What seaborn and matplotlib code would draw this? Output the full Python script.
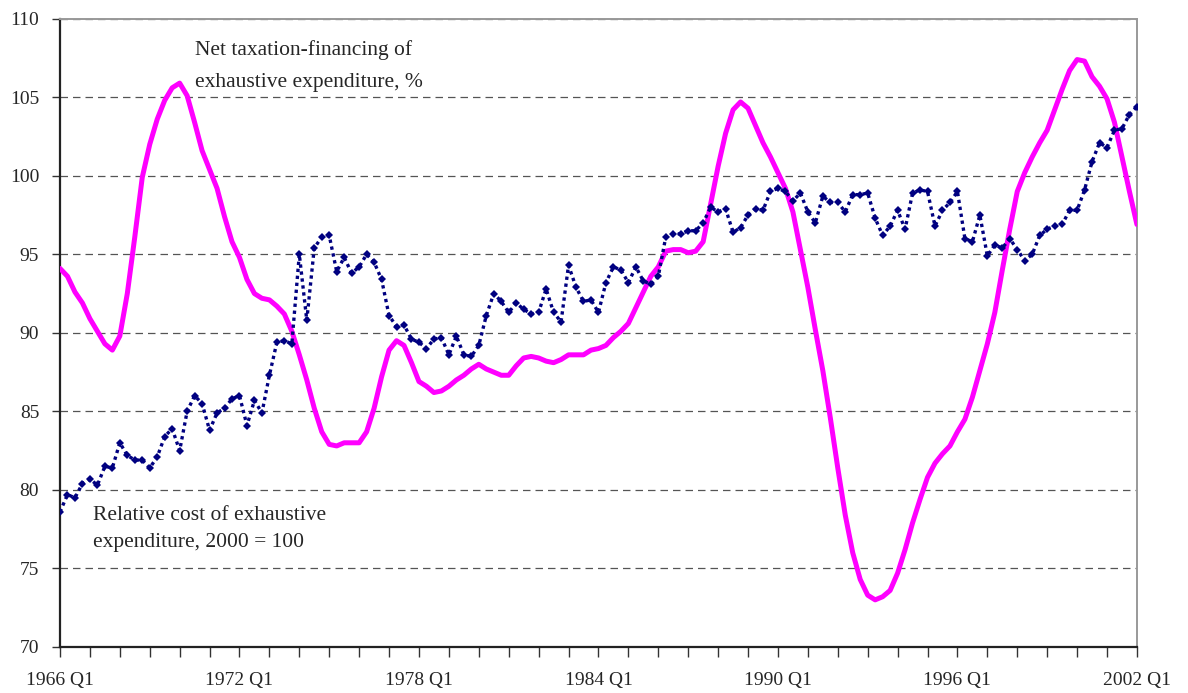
import numpy as np
import pandas as pd
import matplotlib
matplotlib.use("Agg")
import matplotlib.pyplot as plt
import seaborn as sns
from matplotlib.ticker import MultipleLocator

# --- data: quarterly, 1966 Q1 .. 2002 Q1 ---
start_year = 1966
n_quarters = 145
quarter_labels = [f"{start_year + i // 4} Q{i % 4 + 1}" for i in range(n_quarters)]

# Net taxation-financing of exhaustive expenditure, %
tax_financing = [
    94.1, 93.6, 92.6, 91.9, 90.9, 90.1, 89.3, 88.9, 89.8, 92.5,
    96.1, 99.9, 102.0, 103.6, 104.8, 105.6, 105.9, 105.1, 103.4, 101.6,
    100.4, 99.2, 97.4, 95.8, 94.8, 93.4, 92.5, 92.2, 92.1, 91.7,
    91.2, 90.1, 88.6, 87.0, 85.2, 83.7, 82.9, 82.8, 83.0, 83.0,
    83.0, 83.7, 85.2, 87.2, 88.9, 89.5, 89.2, 88.1, 86.9, 86.6,
    86.2, 86.3, 86.6, 87.0, 87.3, 87.7, 88.0, 87.7, 87.5, 87.3,
    87.3, 87.9, 88.4, 88.5, 88.4, 88.2, 88.1, 88.3, 88.6, 88.6,
    88.6, 88.9, 89.0, 89.2, 89.7, 90.1, 90.6, 91.6, 92.6, 93.6,
    94.2, 95.2, 95.3, 95.3, 95.1, 95.2, 95.8, 98.2, 100.6, 102.7,
    104.2, 104.7, 104.3, 103.2, 102.1, 101.2, 100.2, 99.2, 97.7, 95.3,
    92.9, 90.2, 87.6, 84.6, 81.4, 78.4, 76.0, 74.3, 73.3, 73.0,
    73.2, 73.6, 74.7, 76.2, 77.9, 79.4, 80.8, 81.7, 82.3, 82.8,
    83.7, 84.5, 85.9, 87.6, 89.3, 91.3, 94.0, 96.6, 99.0, 100.2,
    101.2, 102.1, 102.9, 104.2, 105.5, 106.7, 107.4, 107.3, 106.3, 105.7,
    104.9, 103.4, 101.2, 99.0, 96.9,
]

# Relative cost of exhaustive expenditure, 2000 = 100
relative_cost = [
    78.6, 79.7, 79.5, 80.4, 80.7, 80.3, 81.5, 81.4, 83.0, 82.2,
    81.9, 81.9, 81.4, 82.1, 83.4, 83.9, 82.5, 85.0, 86.0, 85.5,
    83.8, 84.9, 85.2, 85.8, 86.0, 84.1, 85.7, 84.9, 87.3, 89.4,
    89.5, 89.3, 95.0, 90.8, 95.4, 96.1, 96.2, 93.9, 94.8, 93.8,
    94.2, 95.0, 94.5, 93.4, 91.1, 90.4, 90.5, 89.6, 89.4, 89.0,
    89.6, 89.7, 88.6, 89.8, 88.6, 88.5, 89.2, 91.1, 92.5, 92.0,
    91.3, 91.9, 91.5, 91.2, 91.3, 92.8, 91.3, 90.7, 94.3, 92.9,
    92.0, 92.1, 91.3, 93.2, 94.2, 94.0, 93.2, 94.2, 93.3, 93.1,
    93.6, 96.1, 96.3, 96.3, 96.5, 96.5, 97.0, 98.0, 97.7, 97.9,
    96.4, 96.7, 97.5, 97.9, 97.8, 99.0, 99.2, 99.0, 98.4, 98.9,
    97.7, 97.0, 98.7, 98.3, 98.3, 97.7, 98.8, 98.8, 98.9, 97.3,
    96.2, 96.8, 97.8, 96.6, 98.9, 99.1, 99.0, 96.8, 97.8, 98.3,
    99.0, 96.0, 95.8, 97.5, 94.9, 95.6, 95.4, 96.0, 95.3, 94.6,
    95.0, 96.2, 96.6, 96.8, 96.9, 97.8, 97.8, 99.1, 100.9, 102.1,
    101.8, 102.9, 103.0, 103.9, 104.4,
]

df = pd.DataFrame({
    "q": np.arange(n_quarters),
    "tax": tax_financing,
    "cost": relative_cost,
})

sns.set_style("white")
plt.rcParams["font.family"] = ["Liberation Serif", "DejaVu Serif"]

fig, ax = plt.subplots(figsize=(11.88, 6.93), dpi=100)
fig.subplots_adjust(left=0.0505, right=0.957, top=0.973, bottom=0.0664)

sns.lineplot(data=df, x="q", y="tax", color="#FF00FF", linewidth=3.6, ax=ax, zorder=3)
sns.lineplot(data=df, x="q", y="cost", color="#000080", linewidth=2.4,
             linestyle=(0, (1, 1.1)), marker="D", markersize=4.5,
             markeredgewidth=0, ax=ax, zorder=4)

ax.set_xlim(0, n_quarters - 1)
ax.set_ylim(70, 110)
major = list(range(0, n_quarters, 24))
ax.set_xticks(major)
ax.set_xticklabels([quarter_labels[i] for i in major])
ax.xaxis.set_minor_locator(MultipleLocator(4))
ax.yaxis.set_major_locator(MultipleLocator(5))
ax.set_xlabel("")
ax.set_ylabel("")

ax.tick_params(axis="x", which="both", direction="out", length=7, width=1,
               color="#333333", bottom=True, pad=11, labelsize=14)
ax.tick_params(axis="y", direction="out", length=6, width=1, color="#333333",
               left=True, pad=9, labelsize=14)

ax.set_axisbelow(True)
ax.grid(axis="y", linestyle=(0, (6, 4)), color="#555555", linewidth=0.9)
ax.grid(axis="x", visible=False)

for side in ["left", "bottom"]:
    ax.spines[side].set_color("#222222")
    ax.spines[side].set_linewidth(1.6)
for side in ["top", "right"]:
    ax.spines[side].set_color("#999999")
    ax.spines[side].set_linewidth(1.4)

# annotation labels, one line each
tax_lines = ["Net taxation-financing of", "exhaustive expenditure, %"]
for txt, yv in zip(tax_lines, [108.0, 105.95]):
    ax.text(18.0, yv, txt, fontsize=15.5, va="center", ha="left")
cost_lines = ["Relative cost of exhaustive", "expenditure, 2000 = 100"]
for txt, yv in zip(cost_lines, [78.4, 76.65]):
    ax.text(4.4, yv, txt, fontsize=15.5, va="center", ha="left")

plt.savefig("out.png", dpi=100)
